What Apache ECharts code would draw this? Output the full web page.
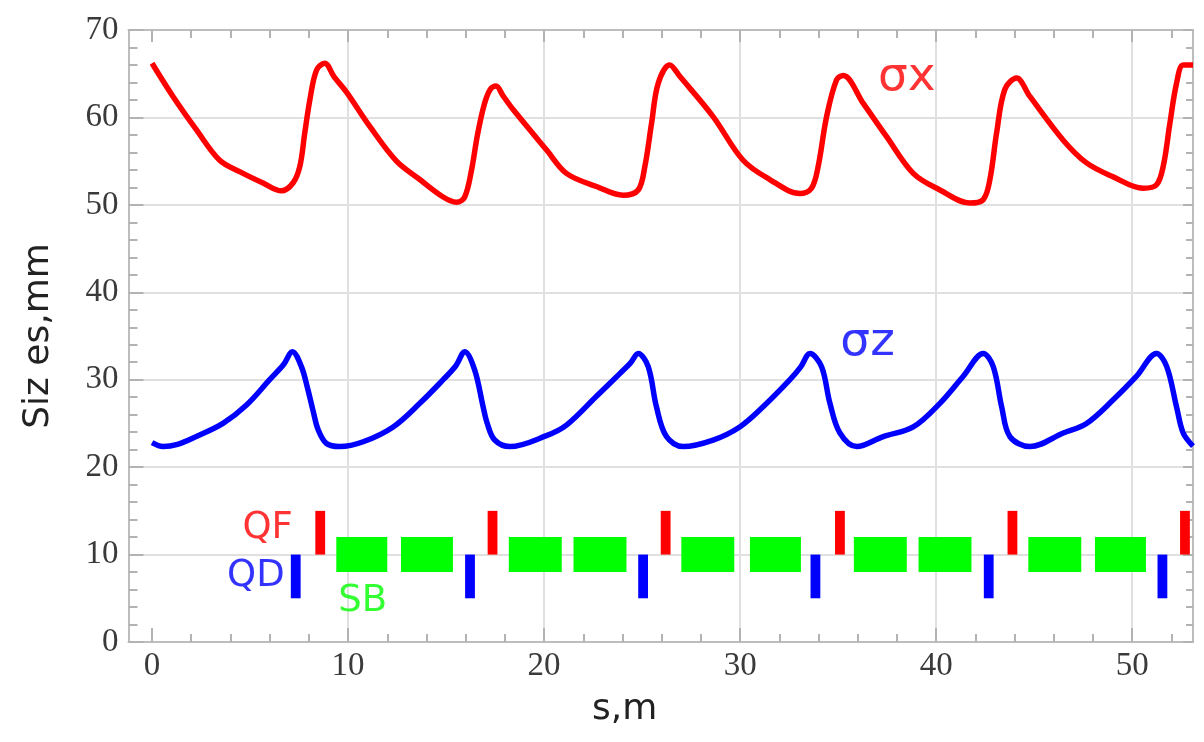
<!DOCTYPE html>
<html><head><meta charset="utf-8">
<script src="https://cdn.jsdelivr.net/npm/echarts@6/dist/echarts.min.js"></script>
<style>html,body{margin:0;padding:0;background:#fff}#c{width:1204px;height:742px}</style>
</head><body><div id="c"></div>
<script>
// ---- data ----
const sxS = [0, 1.07, 2.26, 3.45, 4.47, 5.66, 6.6, 7.19, 7.54, 7.79, 8.05, 8.39, 8.81, 9.3, 9.92, 11.1, 12.47, 13.66, 14.85, 15.53, 15.95, 16.3, 16.6, 16.95, 17.25, 17.55, 17.9, 18.42, 20.12, 21.14, 22.67, 24.03, 24.8, 25.14, 25.48, 25.82, 26.41, 26.92, 28.62, 30.15, 31.51, 33.05, 33.64, 33.98, 34.41, 34.92, 35.26, 36.28, 37.47, 38.83, 40.19, 41.72, 42.4, 42.74, 43.08, 43.5, 44.1, 44.78, 46.48, 47.67, 49.03, 50.56, 51.24, 51.58, 51.92, 52.26, 52.6, 53.1];
const sxV = [66.2, 62.4, 58.6, 55.1, 53.8, 52.5, 51.6, 52.5, 54.4, 58.2, 62.0, 65.4, 66.2, 64.6, 62.9, 59.0, 55.0, 52.9, 50.9, 50.3, 50.9, 54.0, 58.0, 61.5, 63.2, 63.6, 62.5, 60.9, 56.3, 53.6, 52.1, 51.1, 51.7, 54.4, 59.3, 63.9, 66.0, 64.7, 60.1, 55.1, 52.9, 51.3, 51.9, 54.4, 60.1, 64.3, 64.8, 61.6, 57.8, 53.6, 51.7, 50.2, 50.6, 52.9, 58.2, 63.2, 64.5, 62.4, 57.4, 54.8, 53.2, 51.9, 52.3, 54.4, 59.3, 63.9, 66.0, 66.0];

const szS = [0, 0.56, 1.3, 2.26, 3.62, 4.82, 6.0, 6.7, 7.16, 7.62, 7.96, 8.21, 8.47, 8.9, 9.58, 10.77, 12.3, 13.66, 14.85, 15.5, 15.95, 16.46, 16.89, 17.1, 17.48, 18.25, 20.12, 21.14, 22.67, 23.86, 24.4, 24.8, 25.31, 25.73, 26.24, 27.09, 28.62, 29.98, 31.17, 32.54, 33.1, 33.56, 34.15, 34.58, 35.09, 35.94, 37.3, 38.83, 40.19, 41.38, 42.4, 42.91, 43.34, 43.76, 44.78, 46.48, 47.67, 49.03, 50.22, 51.24, 51.76, 52.26, 52.6, 53.1];
const szV = [22.8, 22.35, 22.6, 23.5, 25.0, 27.1, 30.0, 31.7, 33.2, 31.5, 28.8, 26.5, 24.3, 22.7, 22.35, 22.9, 24.6, 27.3, 30.0, 31.6, 33.2, 31.1, 26.9, 25.0, 23.1, 22.35, 23.6, 24.8, 28.1, 30.7, 31.9, 33.0, 31.5, 26.9, 23.5, 22.35, 23.1, 24.6, 26.9, 30.0, 31.5, 33.0, 31.5, 27.3, 23.9, 22.35, 23.5, 24.6, 27.3, 30.4, 33.0, 31.5, 26.9, 23.5, 22.35, 23.9, 25.0, 27.7, 30.4, 33.0, 31.5, 26.9, 23.9, 22.4];

// magnet positions (s, m)
const qfS = [8.58, 17.37, 26.2, 35.09, 43.89, 52.69];
const qdS = [7.33, 16.22, 25.05, 33.84, 42.68, 51.54];
const sbStart = [9.4, 12.7, 18.2, 21.5, 27.0, 30.5, 35.8, 39.1, 44.7, 48.1];
const sbEnd   = [12.0, 15.35, 20.9, 24.2, 29.7, 33.1, 38.5, 41.8, 47.4, 50.7];
const qfRange = [10, 15];
const qdRange = [5, 10];
const sbRange = [8, 12];
const quadWidth = 0.5;

// annotation texts and their data positions
const annoText = ['σx', 'σz', 'QF', 'QD', 'SB'];
const annoS = [38.5, 36.5, 5.9, 5.3, 10.75];
const annoV = [64.5, 34.2, 13.0, 7.55, 4.7];

// axis ticks
const xMajorTicks = [0, 10, 20, 30, 40, 50];
const xMinorTicks = [0, 2, 4, 6, 8, 10, 12, 14, 16, 18, 20, 22, 24, 26, 28, 30, 32, 34, 36, 38, 40, 42, 44, 46, 48, 50, 52];
const xGridValues = [10, 20, 30, 40, 50];
const X_MIN = -1.2, X_MAX = 53.1;

// ---- styles ----
const RED = '#ff0000', BLUE = '#0000ff', GREEN = '#00ff00';
const FRAME = '#bdbdbd', TICK = '#b3b3b3', GRIDC = '#e0e0e0';
const annoStyle = [
  {color: RED, fontSize: 47},
  {color: BLUE, fontSize: 47},
  {color: RED, fontSize: 37},
  {color: BLUE, fontSize: 37},
  {color: GREEN, fontSize: 37}
];
const tickFont = {fontFamily: 'Liberation Serif', fontSize: 33, color: '#3a3a3a'};

const chart = echarts.init(document.getElementById('c'), null, {renderer: 'canvas'});

function rectSeries(name, data, color) {
  return {
    type: 'custom', name, silent: true, z: 3,
    data,
    encode: {x: [0, 1], y: [2, 3]},
    renderItem(params, api) {
      const p0 = api.coord([api.value(0), api.value(3)]);
      const p1 = api.coord([api.value(1), api.value(2)]);
      return {type: 'rect', shape: {x: p0[0], y: p0[1], width: p1[0] - p0[0], height: p1[1] - p0[1]}, style: {fill: color}};
    }
  };
}

const base = {type: 'value', min: X_MIN, max: X_MAX, splitLine: {show: false}, axisLabel: {show: false},
  axisLine: {show: false, onZero: false}, axisTick: {show: false}};

const option = {
  animation: false,
  backgroundColor: '#fff',
  grid: {left: 128.5, right: 11, top: 30, bottom: 100, containLabel: false},
  xAxis: [
    Object.assign({}, base, {position: 'bottom',
      axisLine: {show: true, onZero: false, lineStyle: {color: FRAME, width: 2}},
      axisTick: {show: true, inside: true, length: 14, customValues: xMajorTicks, lineStyle: {color: TICK, width: 2}},
      axisLabel: Object.assign({show: true, customValues: xMajorTicks, margin: 8}, tickFont),
      name: 's,m', nameLocation: 'middle', nameGap: 50,
      nameTextStyle: {fontFamily: 'DejaVu Sans', fontSize: 36, color: '#222', padding: [0, 72, 0, 0]}
    }),
    Object.assign({}, base, {position: 'bottom',
      axisTick: {show: true, inside: true, length: 8, customValues: xMinorTicks, lineStyle: {color: TICK, width: 2}}}),
    Object.assign({}, base, {position: 'top',
      axisLine: {show: true, onZero: false, lineStyle: {color: FRAME, width: 2}},
      axisTick: {show: true, inside: true, length: 12, customValues: xMajorTicks, lineStyle: {color: TICK, width: 2}}}),
    Object.assign({}, base, {position: 'top',
      axisTick: {show: true, inside: true, length: 8, customValues: xMinorTicks, lineStyle: {color: TICK, width: 2}}}),
    Object.assign({}, base, {position: 'bottom',
      axisTick: {show: false, customValues: xGridValues},
      splitLine: {show: true, lineStyle: {color: GRIDC, width: 2}}})
  ],
  yAxis: [
    {type: 'value', min: 0, max: 70, interval: 10, position: 'left',
      axisLine: {show: true, onZero: false, lineStyle: {color: FRAME, width: 2}},
      axisTick: {show: true, inside: true, length: 15, lineStyle: {color: TICK, width: 2}},
      minorTick: {show: true, splitNumber: 5, length: 9, lineStyle: {color: TICK, width: 2}},
      axisLabel: Object.assign({margin: 10}, tickFont),
      splitLine: {show: true, lineStyle: {color: GRIDC, width: 2}},
      name: 'Siz es,mm', nameLocation: 'middle', nameGap: 72,
      nameTextStyle: {fontFamily: 'DejaVu Sans', fontSize: 36, color: '#222'}
    },
    {type: 'value', min: 0, max: 70, interval: 10, position: 'right',
      axisLine: {show: true, onZero: false, lineStyle: {color: FRAME, width: 2}},
      axisTick: {show: true, inside: true, length: 10, lineStyle: {color: TICK, width: 2}},
      minorTick: {show: true, splitNumber: 5, length: 7, lineStyle: {color: TICK, width: 2}},
      axisLabel: {show: false}, splitLine: {show: false}
    }
  ],
  series: [
    rectSeries('SB', sbStart.map((s, i) => [s, sbEnd[i], sbRange[0], sbRange[1]]), GREEN),
    rectSeries('QF', qfS.map(s => [s - quadWidth / 2, s + quadWidth / 2, qfRange[0], qfRange[1]]), RED),
    rectSeries('QD', qdS.map(s => [s - quadWidth / 2, s + quadWidth / 2, qdRange[0], qdRange[1]]), BLUE),
    {type: 'line', name: 'σx', data: sxS.map((s, i) => [s, sxV[i]]), smooth: 0.35, showSymbol: false, symbol: 'none',
      lineStyle: {color: RED, width: 5.5, join: 'round'}, z: 4},
    {type: 'line', name: 'σz', data: szS.map((s, i) => [s, szV[i]]), smooth: 0.35, showSymbol: false, symbol: 'none',
      lineStyle: {color: BLUE, width: 5.5, join: 'round'}, z: 4},
    {type: 'scatter', silent: true, symbolSize: 0, z: 5,
      data: annoText.map((t, i) => ({name: t, value: [annoS[i], annoV[i]], label: annoStyle[i]})),
      label: {show: true, position: 'inside', formatter: '{b}', fontFamily: 'DejaVu Sans'}}
  ]
};
chart.setOption(option);
</script></body></html>
